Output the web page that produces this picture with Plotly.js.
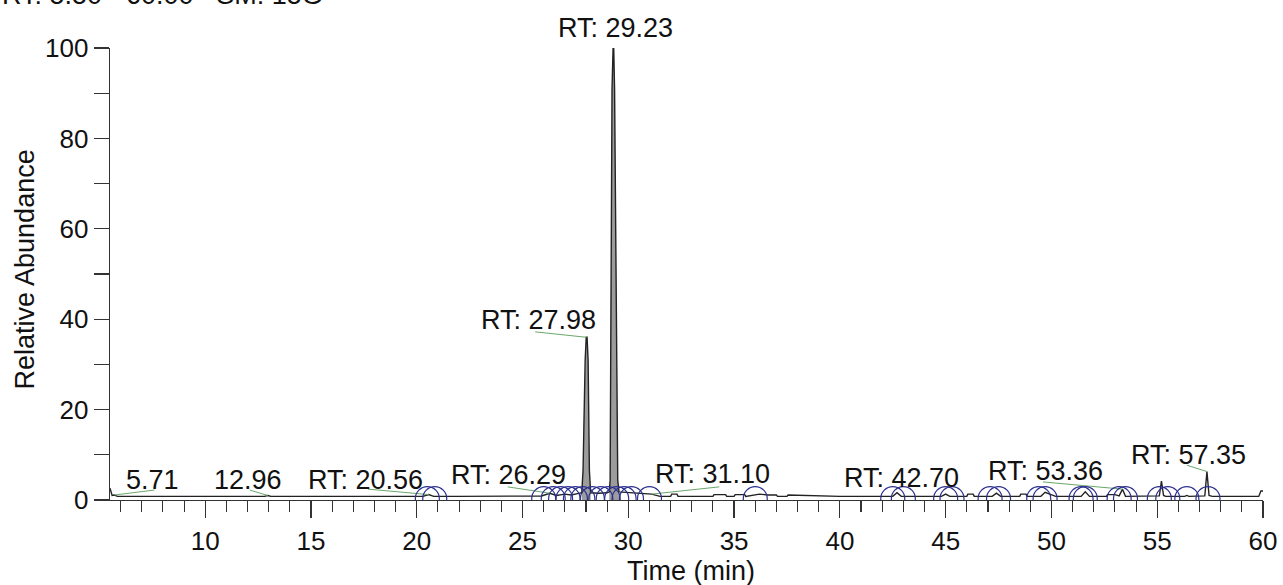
<!DOCTYPE html>
<html>
<head>
<meta charset="utf-8">
<script src="https://cdn.plot.ly/plotly-3.0.1.min.js"></script>
<style>html,body{margin:0;padding:0;background:#fff;}#chart{width:1283px;height:585px;}</style>
</head>
<body>
<div id="chart"></div>
<script>
// ---- chromatogram trace (time in min, relative abundance in %) ----
var timeMin = [5.50, 5.60, 5.71, 5.85, 7.0, 9.0, 11.0, 12.80, 12.96, 13.10, 15.0, 18.0, 20.30, 20.56, 20.80, 22.0, 24.0, 25.90, 26.29, 26.60, 27.00, 27.30, 27.60,
  27.80, 27.86, 27.90, 27.96, 28.01, 28.05, 28.10, 28.12, 28.16, 28.22, 28.60, 29.00,
  29.10, 29.14, 29.17, 29.20, 29.23, 29.28, 29.31, 29.35, 29.41, 29.45, 29.50, 29.56,
  29.90, 30.30, 30.70, 31.10, 31.50, 32.00, 32.05, 32.30, 32.35, 34.00, 34.05, 34.60, 34.65, 35.00, 35.05, 35.50, 35.55, 36.00, 36.20, 36.60, 37.00, 37.05, 37.50, 37.55,
  40.00, 42.50, 42.70, 42.90, 44.80, 45.00, 45.20, 46.00, 46.05, 46.30, 46.35, 47.20, 47.40, 47.60, 48.50, 48.55, 48.80, 48.85, 49.50, 49.70, 50.20, 51.40, 51.60, 51.80,
  52.60, 52.65, 53.00, 53.20, 53.36, 53.50, 54.00, 55.10, 55.20, 55.30, 55.40, 56.30, 56.40, 56.50, 57.25, 57.35, 57.45, 57.60, 58.50, 59.80, 59.90, 60.00];
var abundance = [2.6, 1.0, 1.1, 0.8, 0.8, 0.8, 0.8, 0.8, 1.0, 0.8, 0.8, 0.8, 0.8, 1.2, 0.8, 0.8, 0.8, 0.9, 1.5, 1.0, 1.3, 1.1, 1.4,
  1.6, 6.6, 18.4, 30.9, 36.0, 36.0, 30.9, 18.4, 6.6, 1.6, 1.5, 1.6,
  1.8, 4.4, 43.8, 52.6, 91.0, 100.0, 100.0, 91.0, 52.6, 43.8, 4.4, 1.8,
  1.7, 1.5, 1.3, 1.3, 0.8, 0.8, 1.3, 1.3, 0.8, 0.8, 1.2, 1.2, 0.8, 0.8, 1.2, 1.2, 0.8, 1.1, 1.3, 1.1, 1.1, 0.8, 0.8, 1.1,
  0.8, 0.8, 1.6, 0.8, 0.8, 1.3, 0.8, 0.8, 1.3, 1.3, 0.8, 0.8, 1.5, 0.8, 0.8, 1.3, 1.3, 0.8, 0.8, 1.7, 0.8, 0.8, 1.8, 0.8,
  0.8, 1.2, 1.2, 0.9, 2.4, 0.8, 0.8, 0.9, 4.2, 1.0, 0.8, 0.8, 1.0, 0.8, 0.9, 6.3, 1.0, 0.8, 0.8, 0.8, 2.0, 2.0];

// ---- peak labels ----
var peakRT    = [5.71, 12.96, 20.56, 26.29, 28.02, 29.29, 31.10, 42.70, 53.36, 57.35];
var peakTop   = [1.1, 1.0, 1.2, 1.5, 36.0, 100.0, 1.3, 1.6, 2.4, 6.3];
var labelText = ["5.71", "12.96", "RT: 20.56", "RT: 26.29", "RT: 27.98", "RT: 29.23", "RT: 31.10", "RT: 42.70", "RT: 53.36", "RT: 57.35"];
var labelX    = [7.5, 12.0, 17.6, 24.35, 25.75, 29.4, 33.96, 42.9, 49.7, 56.5];
var labelY    = [4.4, 4.4, 4.4, 5.5, 39.8, 104.4, 5.75, 4.9, 6.4, 10.0];
// leader line start points (null = no leader)
var leadX     = [7.6, 12.1, 17.7, 24.3, 25.6, null, 34.3, null, 49.6, 56.4];
var leadY     = [2.2, 2.2, 2.4, 2.9, 37.2, null, 2.9, null, 4.0, 7.7];

// ---- detected-peak arcs ----
var arcRT = [20.5, 20.85, 26.0, 26.45, 26.8, 27.15, 27.5, 27.85, 28.3, 28.7, 29.05, 29.45, 29.8, 30.15, 31.0, 36.0,
  42.5, 43.0, 45.0, 45.3, 47.1, 47.5, 49.4, 49.7, 51.4, 51.6, 53.2, 53.5, 55.1, 55.5, 56.4, 57.4];

var traces = [];

// fill for the two main peaks
function segment(t0, t1) {
  var xs = [], ys = [];
  for (var i = 0; i < timeMin.length; i++) {
    if (timeMin[i] >= t0 && timeMin[i] <= t1) { xs.push(timeMin[i]); ys.push(abundance[i]); }
  }
  return {x: xs, y: ys};
}
[[27.80, 28.22], [29.10, 29.56]].forEach(function (r) {
  var s = segment(r[0], r[1]);
  traces.push({x: s.x, y: s.y, type: 'scatter', mode: 'lines', fill: 'tozeroy',
    fillcolor: '#9c9c9c', line: {width: 0}, hoverinfo: 'skip', showlegend: false});
});

// main trace
traces.push({x: timeMin, y: abundance, type: 'scatter', mode: 'lines',
  line: {color: '#222222', width: 1.4}, showlegend: false});

// leaders
var lx = [], ly = [];
for (var i = 0; i < peakRT.length; i++) {
  if (leadX[i] === null) continue;
  lx.push(leadX[i], peakRT[i], null);
  ly.push(leadY[i], peakTop[i], null);
}
traces.push({x: lx, y: ly, type: 'scatter', mode: 'lines',
  line: {color: '#6aa86a', width: 1}, showlegend: false, hoverinfo: 'skip'});

// arcs (circles clipped by the x axis)
traces.push({x: arcRT, y: arcRT.map(function () { return 0.3; }), type: 'scatter', mode: 'markers',
  marker: {symbol: 'circle-open', size: 24, color: '#2b2f8f', line: {width: 1.2, color: '#2b2f8f'}},
  showlegend: false, hoverinfo: 'skip'});

var font = 'Liberation Sans, Arial, sans-serif';
// y range is [0, 100], so paper fraction = value / 100
var annotations = labelText.map(function (t, i) {
  return {x: labelX[i], y: labelY[i] / 100, xref: 'x', yref: 'paper', text: t, showarrow: false,
    xanchor: 'center', yanchor: 'middle', font: {family: font, size: 27, color: '#111'}};
});
annotations.push({xref: 'paper', yref: 'paper', x: -0.0954, y: 1.118, xanchor: 'left', yanchor: 'middle',
  text: 'RT: 5.50 - 60.00\u00a0\u00a0\u00a0SM: 15G', showarrow: false, font: {family: font, size: 27, color: '#111'}});
annotations.push({xref: 'paper', yref: 'paper', x: 0.504, y: -0.157, xanchor: 'center', yanchor: 'middle',
  text: 'Time (min)', showarrow: false, font: {family: font, size: 27, color: '#111'}});
annotations.push({xref: 'paper', yref: 'paper', x: -0.0737, y: 0.51, xanchor: 'center', yanchor: 'middle',
  text: 'Relative Abundance', textangle: -90, showarrow: false, font: {family: font, size: 27, color: '#111'}});

var layout = {
  width: 1283, height: 585,
  margin: {l: 110, r: 20, t: 48, b: 85},
  paper_bgcolor: '#ffffff', plot_bgcolor: '#ffffff',
  font: {family: font, size: 25, color: '#111'},
  xaxis: {range: [5.5, 60], tick0: 0, dtick: 5, showgrid: false, zeroline: false,
    showline: true, linecolor: '#333', linewidth: 1.3, ticks: 'outside', ticklen: 17, tickwidth: 1.2, tickcolor: '#333',
    tickfont: {family: font, size: 26, color: '#111'},
    minor: {dtick: 1, tick0: 0, ticks: 'outside', ticklen: 11, tickwidth: 1.1, tickcolor: '#333', showgrid: false}},
  yaxis: {range: [0, 100], tick0: 0, dtick: 20, showgrid: false, zeroline: false,
    showline: true, linecolor: '#333', linewidth: 1.3, ticks: 'outside', ticklen: 15, tickwidth: 1.2, tickcolor: '#333',
    tickfont: {family: font, size: 26, color: '#111'},
    minor: {dtick: 10, tick0: 0, ticks: 'outside', ticklen: 15, tickwidth: 1.1, tickcolor: '#333', showgrid: false}},
  annotations: annotations,
  showlegend: false
};

Plotly.newPlot('chart', traces, layout, {staticPlot: true, displayModeBar: false});
</script>
</body>
</html>
